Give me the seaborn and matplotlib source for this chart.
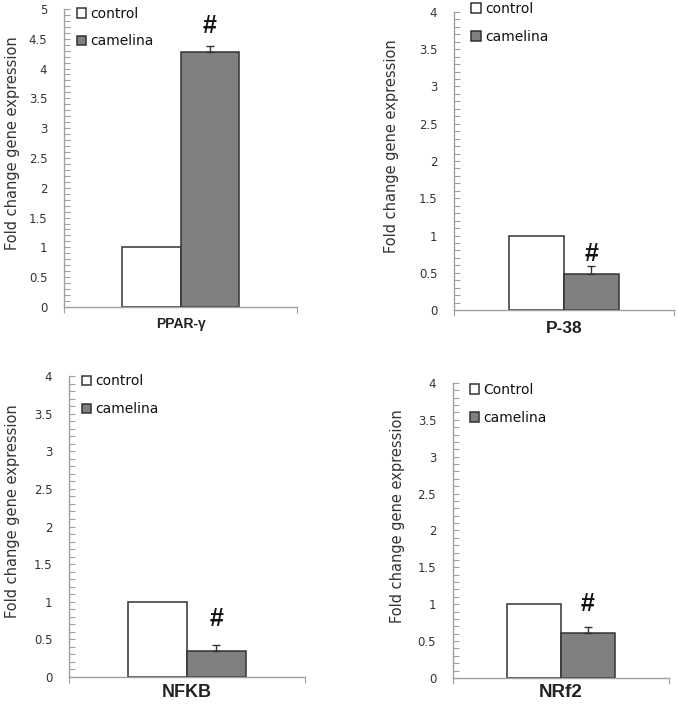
import numpy as np
import pandas as pd
import matplotlib
matplotlib.use("Agg")
import matplotlib.pyplot as plt
import seaborn as sns
from matplotlib.ticker import MultipleLocator

# fold change values
genes = ["PPAR-γ", "P-38", "NFKB", "NRf2"]
control = [1.0, 1.0, 1.0, 1.0]
camelina = [4.28, 0.48, 0.35, 0.61]
camelina_err = [0.09, 0.11, 0.07, 0.08]
control_names = ["control", "control", "control", "Control"]
ymax = [5, 4, 4, 4]

sns.set_style("white")
plt.rcParams['font.family'] = ['DejaVu Sans']

fig = plt.figure(figsize=(6.78, 7.08), dpi=100)
positions = [
    [0.0944, 0.5664, 0.344, 0.421],
    [0.6696, 0.5621, 0.3245, 0.421],
    [0.1018, 0.0438, 0.348, 0.425],
    [0.668, 0.0424, 0.3186, 0.4167],
]
hash_offset = [15, 8.5, 19, 16.5]
gene_size = [10, 12.5, 13, 13.5]
gene_pad = [7, 8, 5, 4]
ylab_pad = [6, 14, 10, 9]
leg_anchor = [(0.0, 1.05), (0.02, 1.075), (0.0, 1.047), (0.02, 1.043)]

for i, gene in enumerate(genes):
    ax = fig.add_axes(positions[i])
    df = pd.DataFrame({
        'gene': [gene, gene],
        'group': [control_names[i], 'camelina'],
        'value': [control[i], camelina[i]],
    })
    sns.barplot(data=df, x='gene', y='value', hue='group',
                palette=['white', '#808080'], edgecolor='#333333',
                linewidth=1.1, width=0.5, ax=ax, errorbar=None)

    # upward error bar on camelina bar
    bar = ax.patches[1]
    xc = bar.get_x() + bar.get_width() / 2
    ax.errorbar([xc], [camelina[i]], yerr=[[0], [camelina_err[i]]],
                fmt='none', ecolor='#333333', elinewidth=1, capsize=3, capthick=1)
    ax.annotate('#', (xc, camelina[i] + camelina_err[i]),
                xytext=(0, hash_offset[i]), textcoords='offset points',
                ha='center', va='center', fontsize=18, fontweight='bold',
                family=['Liberation Sans', 'DejaVu Sans'], color='#111111')

    ax.set_xlim(-0.5, 0.5)
    ax.set_ylim(0, ymax[i])
    ax.yaxis.set_major_locator(MultipleLocator(0.5))
    ax.yaxis.set_minor_locator(MultipleLocator(0.1))
    ax.set_yticklabels([f"{t:g}" for t in ax.get_yticks()])
    ax.tick_params(axis='y', which='both', direction='in', length=4,
                   color='#a0a0a0', width=0.8, left=True, labelsize=8.5,
                   labelcolor='#333333', pad=12)
    ax.set_xticks([0])
    ax.set_xticklabels([gene], fontweight='bold', fontsize=gene_size[i],
                       family=['Liberation Sans', 'DejaVu Sans'], color='#222222')
    ax.tick_params(axis='x', which='major', length=0, pad=gene_pad[i])
    ax.set_xticks([-0.5, 0.5], minor=True)
    ax.tick_params(axis='x', which='minor', direction='out', length=4,
                   color='#a0a0a0', width=0.8, bottom=True)
    ax.set_xlabel('')
    ax.set_ylabel('Fold change gene expression', fontsize=10.5, color='#333333',
                  labelpad=ylab_pad[i])
    ax.yaxis.label.set_y(0.55)

    for side in ['top', 'right']:
        ax.spines[side].set_visible(False)
    for side in ['left', 'bottom']:
        ax.spines[side].set_color('#a0a0a0')
        ax.spines[side].set_linewidth(1)

    handles, labels = ax.get_legend_handles_labels()
    ax.legend(handles, labels, loc='upper left', bbox_to_anchor=leg_anchor[i],
              frameon=False, handlelength=0.7, handleheight=0.7,
              handletextpad=0.3, labelspacing=1.0, fontsize=10,
              labelcolor='#111111')

fig.savefig('out.png', dpi=100)
